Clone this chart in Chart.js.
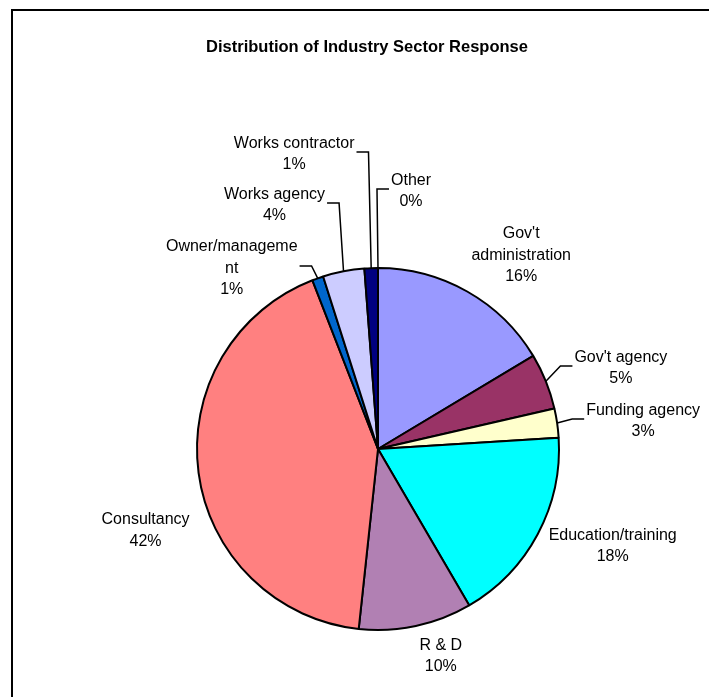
<!DOCTYPE html>
<html>
<head>
<meta charset="utf-8">
<title>Distribution of Industry Sector Response</title>
<script src="https://cdn.jsdelivr.net/npm/chart.js@4.4.0/dist/chart.umd.min.js"></script>
<style>
  html, body { margin: 0; padding: 0; background: #fff; overflow: hidden; }
  #frame { position: absolute; left: 11px; top: 9px; width: 740px; height: 860px;
           border-top: 2px solid #000; border-left: 2px solid #000; }
  #wrap { position: absolute; left: 0; top: 0; width: 710px; height: 830px; }
</style>
</head>
<body>
<div id="frame"><div id="wrap"><canvas id="sectorChart"></canvas></div></div>
<script>
// Survey response by industry sector (%), clockwise from 12 o'clock
const chartTitle = 'Distribution of Industry Sector Response';
const sectors = ["Gov't administration", "Gov't agency", 'Funding agency', 'Education/training', 'R & D',
                 'Consultancy', 'Owner/management', 'Works agency', 'Works contractor', 'Other'];
const shares = [16.4, 5.0, 2.6, 17.6, 10.1, 42.4, 1.0, 3.7, 1.2, 0];
const sliceColors = ['#9999FF', '#993366', '#FFFFCC', '#00FFFF', '#B180B3',
                     '#FF8080', '#0066CC', '#CCCCFF', '#000080', '#FF00FF'];

// where each label sits, relative to the middle of its slice's rim
const labelLayout = [
  { dx: 54, dy: -36, leader: false },
  { dx: 75, dy: -13, leader: true },
  { dx: 86, dy: -2, leader: true },
  { dx: 75, dy: 12, leader: false },
  { dx: 25, dy: 30, leader: false },
  { dx: -53, dy: 58, leader: false },
  { dx: -86, dy: -10, leader: true },
  { dx: -69, dy: -66, leader: true },
  { dx: -77, dy: -114, leader: true },
  { dx: 33, dy: -77, leader: true }
];

const FONT = '"Liberation Sans", Arial, sans-serif';

// Excel-like wrapping: split on spaces, break over-long words by character
function wrapText(ctx, text, maxW) {
  const lines = [];
  let cur = '';
  for (const word of text.split(' ')) {
    const trial = cur ? cur + ' ' + word : word;
    if (ctx.measureText(trial).width <= maxW) { cur = trial; continue; }
    if (cur) lines.push(cur);
    cur = '';
    for (const ch of word) {
      if (cur && ctx.measureText(cur + ch).width > maxW) { lines.push(cur); cur = ch; }
      else cur += ch;
    }
  }
  if (cur) lines.push(cur);
  return lines;
}

const sliceLabels = {
  id: 'sliceLabels',
  afterDatasetsDraw(chart) {
    const ctx = chart.ctx;
    const meta = chart.getDatasetMeta(0);
    const total = shares.reduce((a, b) => a + b, 0);
    ctx.save();
    ctx.fillStyle = '#000';
    ctx.strokeStyle = '#000';
    ctx.lineWidth = 1.5;
    ctx.textAlign = 'center';
    ctx.textBaseline = 'middle';

    ctx.font = 'bold 16.5px ' + FONT;
    ctx.fillText(chartTitle, 354, 36.6);

    ctx.font = '16px ' + FONT;
    const lh = 21.5;
    meta.data.forEach((arc, i) => {
      const { x, y, startAngle, endAngle, outerRadius } =
        arc.getProps(['x', 'y', 'startAngle', 'endAngle', 'outerRadius'], true);
      const mid = (startAngle + endAngle) / 2;
      const px = x + Math.cos(mid) * outerRadius;
      const py = y + Math.sin(mid) * outerRadius;
      const lay = labelLayout[i];
      const cx = px + lay.dx, cy = py + lay.dy;

      const lines = wrapText(ctx, sectors[i], 136);
      lines.push(Math.round(shares[i] / total * 100) + '%');
      const top = cy - (lines.length - 1) * lh / 2;
      lines.forEach((ln, k) => ctx.fillText(ln, cx, top + k * lh));

      if (lay.leader) {
        const half = Math.max(...lines.map(l => ctx.measureText(l).width)) / 2;
        const side = cx > px ? 1 : -1;
        const edge = cx - side * (half + 2);
        const ly = Math.round(cy - 2);
        ctx.beginPath();
        ctx.moveTo(px, py);
        ctx.lineTo(edge - side * 12, ly);
        ctx.lineTo(edge, ly);
        ctx.stroke();
      }
    });
    ctx.restore();
  }
};

new Chart(document.getElementById('sectorChart'), {
  type: 'pie',
  data: {
    labels: sectors,
    datasets: [{
      data: shares,
      backgroundColor: sliceColors,
      borderColor: '#000',
      borderWidth: 2,
      radius: 181
    }]
  },
  options: {
    responsive: true,
    maintainAspectRatio: false,
    animation: false,
    events: [],
    layout: { padding: { left: 20, right: 0, top: 46, bottom: 0 } },
    plugins: {
      legend: { display: false },
      tooltip: { enabled: false }
    }
  },
  plugins: [sliceLabels]
});
</script>
</body>
</html>
